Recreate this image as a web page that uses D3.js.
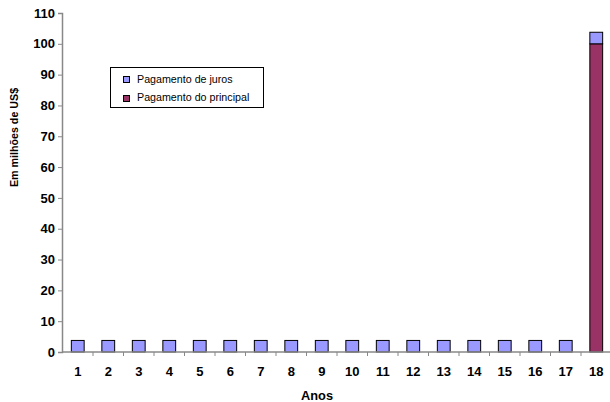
<!DOCTYPE html>
<html><head><meta charset="utf-8">
<script src="https://cdn.jsdelivr.net/npm/d3@7"></script>
<style>body{margin:0;background:#fff;}svg{display:block;font-family:Arial,"Liberation Sans",sans-serif;}</style>
</head><body><svg id="c" width="610" height="402"></svg>
<script>
const years = ["1","2","3","4","5","6","7","8","9","10","11","12","13","14","15","16","17","18"];
const principal = [0,0,0,0,0,0,0,0,0,0,0,0,0,0,0,0,0,100];
const juros = [3.75,3.75,3.75,3.75,3.75,3.75,3.75,3.75,3.75,3.75,3.75,3.75,3.75,3.75,3.75,3.75,3.75,3.75];
const yTicks = [0,10,20,30,40,50,60,70,80,90,100,110];
const seriesNames = ["Pagamento de juros","Pagamento do principal"];
const colors = {juros:"#9999FF", principal:"#993366"};

const svg = d3.select("#c");
const m = {l:62.5, r:611.5};
const W = 610;
const x = d3.scaleBand().domain(years).range([m.l, m.r]).paddingInner(0.58).paddingOuter(0.29);
const y = d3.scaleLinear().domain([0,110]).range([352, 13]);
const x2 = d3.scaleBand().domain(years).range([m.l, m.r]);

const data = years.map((yr,i)=>({yr, p:principal[i], j:juros[i]}));
svg.append("g").selectAll("rect").data(data.filter(d=>d.p>0)).join("rect")
  .attr("x", d=>x(d.yr)).attr("width", x.bandwidth())
  .attr("y", d=>y(d.p)).attr("height", d=>y(0)-y(d.p))
  .attr("fill", colors.principal).attr("stroke","#000").attr("stroke-width",1);
svg.append("g").selectAll("rect").data(data).join("rect")
  .attr("x", d=>x(d.yr)).attr("width", x.bandwidth())
  .attr("y", d=>y(d.p + d.j)).attr("height", d=>y(d.p)-y(d.p+d.j))
  .attr("fill", colors.juros).attr("stroke","#000").attr("stroke-width",1);

// y axis
const ya = svg.append("g").attr("transform",`translate(62,0)`)
  .call(d3.axisLeft(y).tickValues(yTicks).tickSize(4).tickPadding(3));
ya.select(".domain").attr("stroke","#888").attr("stroke-width",1.5);
ya.selectAll(".tick line").attr("stroke","#888");
ya.selectAll("text").attr("font-size",13).attr("font-weight","bold").attr("fill","#000").attr("font-family","Arial, 'Liberation Sans', sans-serif");

// x axis
const xa = svg.append("g").attr("transform",`translate(0,${y(0)})`);
xa.append("line").attr("x1",62).attr("x2",W).attr("y1",0).attr("y2",0).attr("stroke","#888").attr("stroke-width",1.5);
xa.selectAll("line.tk").data(years.slice(1)).join("line").attr("class","tk")
  .attr("x1",d=>x2(d)).attr("x2",d=>x2(d)).attr("y1",0).attr("y2",4).attr("stroke","#888");
xa.selectAll("text").data(years).join("text")
  .attr("x",d=>x2(d)+x2.bandwidth()/2).attr("y",23.5).attr("text-anchor","middle")
  .attr("font-size",13).attr("font-weight","bold").text(d=>d);

// titles
svg.append("text").attr("x",317).attr("y",399.5).attr("text-anchor","middle")
  .attr("font-size",12.8).attr("font-weight","bold").text("Anos");
svg.append("text").attr("transform","translate(18,137.5) rotate(-90)").attr("text-anchor","middle")
  .attr("font-size",10.7).attr("font-weight","bold").text("Em milhões de US$");

// legend
const lg = svg.append("g");
lg.append("rect").attr("x",110.5).attr("y",67.5).attr("width",153).attr("height",40).attr("fill","#fff").attr("stroke","#000").attr("stroke-width",1);
[["juros",0],["principal",1]].forEach(([k,i])=>{
  lg.append("rect").attr("x",123.5).attr("y",76.5+i*19).attr("width",6).attr("height",6).attr("fill",colors[k]).attr("stroke","#000");
  lg.append("text").attr("x",137).attr("y",83.3+i*18).attr("font-size",10.7).text(seriesNames[i]);
});
</script></body></html>
